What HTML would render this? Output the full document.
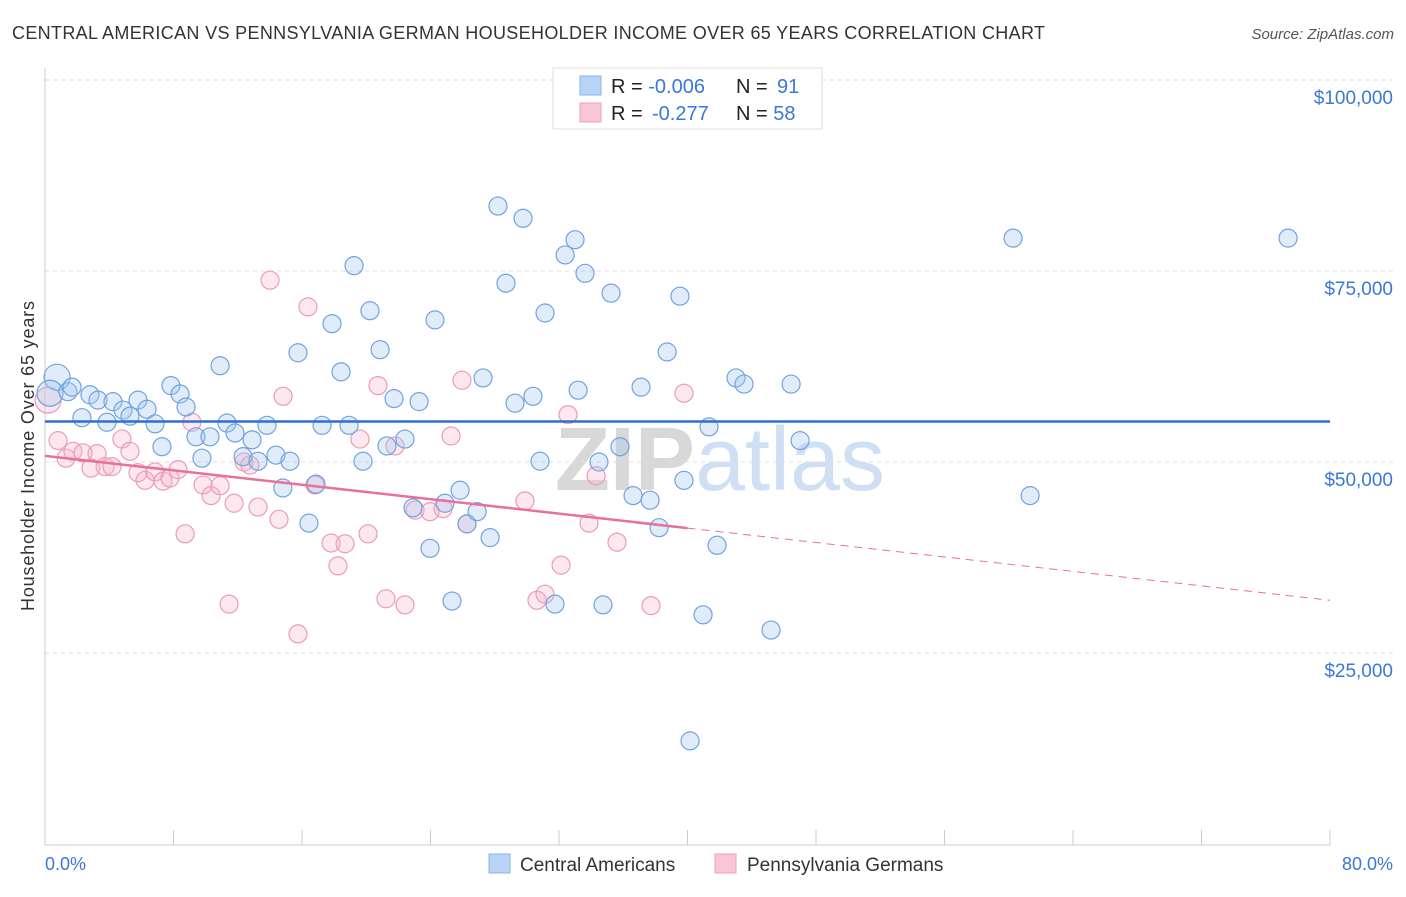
<!DOCTYPE html>
<html><head><meta charset="utf-8"><style>
body{margin:0;background:#fff;font-family:"Liberation Sans",sans-serif;}
</style></head><body>
<svg id="chart" width="1406" height="892" xmlns="http://www.w3.org/2000/svg" font-family="Liberation Sans, sans-serif">
<text x="12" y="39" font-size="18" fill="#333" textLength="1033" lengthAdjust="spacing">CENTRAL AMERICAN VS PENNSYLVANIA GERMAN HOUSEHOLDER INCOME OVER 65 YEARS CORRELATION CHART</text>
<text x="1394" y="39" font-size="15" fill="#555" text-anchor="end" font-style="italic">Source: ZipAtlas.com</text>
<text x="720" y="490" font-size="90" text-anchor="middle" fill="#dde6f0" font-weight="bold"><tspan fill="#d8d8d8">ZIP</tspan><tspan fill="#cfe0f5" font-weight="normal">atlas</tspan></text>
<g id="grid"></g>
<g id="axes"></g>
<g id="pinkPts"></g>
<g id="bluePts"></g>
<g id="lines"></g>
<text transform="translate(34,456) rotate(-90)" font-size="18" fill="#333" text-anchor="middle" textLength="310" lengthAdjust="spacing">Householder Income Over 65 years</text>
<text x="45" y="870" font-size="18" fill="#3a78d8">0.0%</text>
<text x="1393" y="870" font-size="18" fill="#3a78d8" text-anchor="end">80.0%</text>
<g>
<rect x="553" y="68" width="269" height="61" fill="#fff" stroke="#ddd"/>
<rect x="580" y="76" width="21" height="19" fill="#b8d3f5" stroke="#8ab4ea"/>
<rect x="580" y="103" width="21" height="19" fill="#f8c6d4" stroke="#eea3bb"/>
<text x="611" y="93" font-size="20" fill="#222">R = <tspan fill="#3a78d8">-0.006</tspan><tspan x="736">N = </tspan><tspan fill="#3a78d8" x="777">91</tspan></text>
<text x="611" y="120" font-size="20" fill="#222">R = <tspan fill="#3a78d8" x="652">-0.277</tspan><tspan x="736">N = </tspan><tspan fill="#3a78d8">58</tspan></text>
</g>
<g>
<rect x="489" y="854" width="21" height="19" fill="#b8d3f5" stroke="#8ab4ea"/>
<text x="520" y="871" font-size="19" fill="#333">Central Americans</text>
<rect x="715" y="854" width="21" height="19" fill="#f8c6d4" stroke="#eea3bb"/>
<text x="747" y="871" font-size="19" fill="#333">Pennsylvania Germans</text>
</g>
</svg>
<script>
const yTicks=[25000,50000,75000,100000];
const yTickLabels=["$25,000","$50,000","$75,000","$100,000"];
const xTicks=[0,8,16,24,32,40,48,56,64,72,80];
const blueX=[0.75,0.31,1.43,1.68,2.80,3.30,4.23,4.86,5.29,3.86,2.30,5.79,6.35,6.85,7.84,8.41,8.78,7.28,9.40,9.77,10.27,10.90,11.33,11.83,12.33,12.89,13.26,13.82,14.38,14.81,15.25,15.75,16.43,16.87,17.25,17.87,18.43,18.93,19.24,19.80,20.23,20.86,21.29,21.73,22.41,22.91,23.29,23.97,24.28,24.90,25.34,25.84,26.27,26.90,27.27,27.71,28.20,28.70,29.26,29.76,30.38,30.82,31.13,31.75,32.38,33.00,33.19,33.62,34.49,34.74,35.24,35.80,36.61,37.11,37.67,38.23,38.73,39.53,39.78,40.16,40.97,41.34,41.84,43.02,43.52,45.20,46.45,47.01,60.27,61.33,77.39];
const blueY=[61.1,59.0,59.2,59.8,58.8,58.1,57.9,56.8,56.0,55.2,55.8,58.1,56.9,55.0,60.0,58.9,57.2,52.0,53.3,50.5,53.3,62.6,55.1,53.8,50.7,52.9,50.1,54.8,50.9,46.6,50.1,64.3,42.0,47.1,54.8,68.1,61.8,54.8,75.7,50.1,69.8,64.7,52.1,58.3,53.0,44.0,57.9,38.7,68.6,44.6,31.8,46.3,41.9,43.5,61.0,40.1,83.5,73.4,57.7,81.9,58.6,50.1,69.5,31.4,77.1,79.1,59.4,74.7,50.0,31.3,72.1,52.0,45.6,59.8,45.0,41.4,64.4,71.7,47.6,13.5,30.0,54.6,39.1,61.0,60.2,28.0,60.2,52.8,79.3,45.6,79.3];
const pinkX=[0.19,0.81,1.31,1.74,2.37,2.86,3.24,3.74,4.17,4.79,5.29,5.79,6.23,6.85,7.35,7.78,8.28,8.72,9.15,9.84,10.34,10.90,11.46,11.77,12.39,12.76,13.26,14.01,14.57,14.82,15.75,16.37,16.81,17.81,18.24,18.68,19.61,20.11,20.73,21.23,21.79,22.41,23.04,23.97,24.78,25.28,25.96,26.27,29.88,30.63,31.13,32.13,32.56,34.31,33.87,35.61,37.73,39.78];
const pinkY=[58.1,52.8,50.5,51.4,51.2,49.2,51.1,49.4,49.4,53.0,51.4,48.6,47.6,48.7,47.5,47.9,49.0,40.6,55.2,47.0,45.6,46.9,31.4,44.6,50.0,49.6,44.1,73.8,42.5,58.6,27.5,70.3,47.0,39.4,36.4,39.3,53.0,40.6,60.0,32.1,52.1,31.3,43.7,43.5,43.9,53.4,60.7,41.9,44.9,31.9,32.7,36.5,56.2,48.2,42.0,39.5,31.2,59.0];
const blueTrend=[55.3,55.3];
const pinkTrend=[50.8,31.9];
const NS="http://www.w3.org/2000/svg";
const X=p=>45+p/80*1285;
function yk(k){return 844-k/25*191;}
function mk(t,a,parent){const e=document.createElementNS(NS,t);for(const k in a)e.setAttribute(k,a[k]);parent.appendChild(e);return e;}
const grid=document.getElementById('grid'),axes=document.getElementById('axes');
yTicks.forEach((t,i)=>{const y=yk(t/1000);
const g=mk('line',{x1:45,x2:1393,y1:y,y2:y,stroke:'#ddd','stroke-dasharray':'4,4'},grid);


const l=mk('text',{x:1393,y:y+24,'font-size':19,fill:'#3a78d8','text-anchor':'end'},grid);
l.textContent=yTickLabels[i];

});
const ax=mk('line',{x1:45,x2:1330,y1:845,y2:845,stroke:'#ccc'},axes);


const ay=mk('line',{x1:45,x2:45,y1:68,y2:845,stroke:'#ccc'},axes);


xTicks.forEach(t=>{const e=mk('line',{x1:X(t),x2:X(t),y1:830,y2:845,stroke:'#ccc'},axes);

});
function pts(xs,ys,g,fill,stroke,name){xs.forEach((x,i)=>{const r=(i<2&&name==='blue-point')||(i===0&&name==='pink-point')?13:9;
const c=mk('circle',{cx:X(x),cy:yk(ys[i]),r:r,fill:fill,stroke:stroke,'stroke-width':1.2},g);

});}
pts(pinkX,pinkY,document.getElementById('pinkPts'),'rgba(246,180,200,0.3)','#eb9cb6','pink-point');
pts(blueX,blueY,document.getElementById('bluePts'),'rgba(160,196,240,0.32)','#72a2e0','blue-point');
const lines=document.getElementById('lines');
const bl=mk('line',{x1:X(0),x2:X(80),y1:yk(blueTrend[0]),y2:yk(blueTrend[1]),stroke:'#2f6fd0','stroke-width':2.5},lines);


const pm=v=>pinkTrend[0]+(pinkTrend[1]-pinkTrend[0])*v/80;
const ps=mk('line',{x1:X(0),x2:X(40),y1:yk(pm(0)),y2:yk(pm(40)),stroke:'#e8709a','stroke-width':2.5},lines);


const pd=mk('line',{x1:X(40),x2:X(80),y1:yk(pm(40)),y2:yk(pm(80)),stroke:'#e8709a','stroke-width':1,'stroke-dasharray':'8,6'},lines);


</script>
</body></html>
